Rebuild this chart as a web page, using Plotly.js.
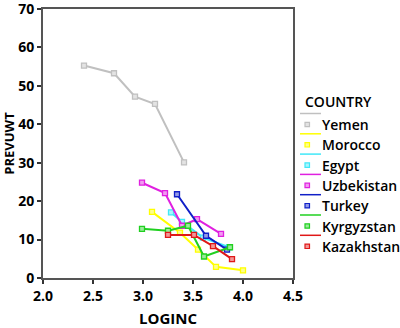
<!DOCTYPE html>
<html><head><meta charset="utf-8">
<script src="https://cdn.plot.ly/plotly-3.0.1.min.js"></script>
<style>html,body{margin:0;padding:0;background:#fff}#c{width:400px;height:328px}</style>
</head><body><div id="c"></div>
<script>
const countries = ["Yemen","Morocco","Egypt","Uzbekistan","Turkey","Kyrgyzstan","Kazakhstan"];
const colors = ["#c0c0c0","#ffff00","#40e8f8","#e020e0","#1020c8","#20d020","#e01818"];
const yemenX = [2.41,2.71,2.92,3.12,3.41];
const yemenY = [55.3,53.3,47.2,45.3,30.1];
const moroccoX = [3.09,3.37,3.55,3.73,4.0];
const moroccoY = [17.2,11.8,7.4,2.9,2.0];
const egyptX = [3.28,3.39,3.6,3.86];
const egyptY = [17.1,14.6,10.5,8.0];
const uzbekistanX = [2.99,3.22,3.39,3.54,3.78];
const uzbekistanY = [24.8,22.1,13.6,15.3,11.5];
const turkeyX = [3.34,3.63,3.84];
const turkeyY = [21.8,11.0,7.4];
const kyrgyzstanX = [2.99,3.25,3.45,3.61,3.87];
const kyrgyzstanY = [12.8,12.3,13.6,5.6,8.0];
const kazakhstanX = [3.25,3.51,3.70,3.89];
const kazakhstanY = [11.2,11.2,8.3,4.9];
const xTicks = [2.0,2.5,3.0,3.5,4.0,4.5];
const yTicks = [0,10,20,30,40,50,60,70];

const xs = [yemenX,moroccoX,egyptX,uzbekistanX,turkeyX,kyrgyzstanX,kazakhstanX];
const ys = [yemenY,moroccoY,egyptY,uzbekistanY,turkeyY,kyrgyzstanY,kazakhstanY];

function lighten(hex){
  const r=parseInt(hex.slice(1,3),16),g=parseInt(hex.slice(3,5),16),b=parseInt(hex.slice(5,7),16);
  const f=v=>Math.round(v+(255-v)*0.55);
  return `rgb(${f(r)},${f(g)},${f(b)})`;
}

const traces = countries.map((n,i)=>({
  type:'scatter', mode:'lines+markers', name:n, x:xs[i], y:ys[i],
  line:{color:colors[i], width:2},
  marker:{symbol:'square', size:5, color:lighten(colors[i]), line:{color:colors[i], width:1.3}},
  showlegend:false
}));

// custom SPSS-style legend
const L=43, W=250, B=278, H=269;
const px = p => (p-L)/W, py = p => (B-p)/H;
const shapes=[], annotations=[];
const lf = {family:'Open Sans',size:14,weight:600,color:'#000'};
annotations.push({xref:'paper',yref:'paper',x:px(303),y:py(101),xanchor:'left',yanchor:'middle',
  text:'COUNTRY',showarrow:false,font:lf});
countries.forEach((n,i)=>{
  const ly=113.5+i*20.3, my=ly+11;
  shapes.push({type:'line',xref:'paper',yref:'paper',x0:px(300),x1:px(321),y0:py(ly),y1:py(ly),line:{color:colors[i],width:1.5}});
  shapes.push({type:'rect',xref:'paper',yref:'paper',x0:px(305),x1:px(309.5),y0:py(my-2.2),y1:py(my+2.2),line:{color:colors[i],width:1.2},fillcolor:lighten(colors[i])});
  annotations.push({xref:'paper',yref:'paper',x:px(320),y:py(my),xanchor:'left',yanchor:'middle',
    text:n,showarrow:false,font:lf});
});

const axBase = {showgrid:false, zeroline:false, showline:true, linecolor:'#555', linewidth:2, mirror:true,
  ticks:'outside', ticklen:4, tickwidth:2, tickcolor:'#333', ticklabeloverflow:'allow',
  tickfont:{family:'Open Sans', size:14, weight:700, color:'#000'}};

const layout = {
  width:400, height:328, margin:{l:43,r:107,t:9,b:50},
  paper_bgcolor:'#fff', plot_bgcolor:'#fff', showlegend:false,
  xaxis:Object.assign({}, axBase, {range:[2,4.5], tickvals:xTicks, ticktext:xTicks.map(v=>v.toFixed(1)),
    title:{text:'LOGINC', font:{family:'Open Sans', size:15, weight:700, color:'#000'}, standoff:14}}),
  yaxis:Object.assign({}, axBase, {range:[0,70.02], tickvals:yTicks, ticktext:yTicks.map(String),
    title:{text:'PREVUWT', font:{family:'Open Sans', size:13, weight:700, color:'#000'}, standoff:4}}),
  shapes, annotations
};
Plotly.newPlot('c', traces, layout, {staticPlot:true, displayModeBar:false});
</script></body></html>
